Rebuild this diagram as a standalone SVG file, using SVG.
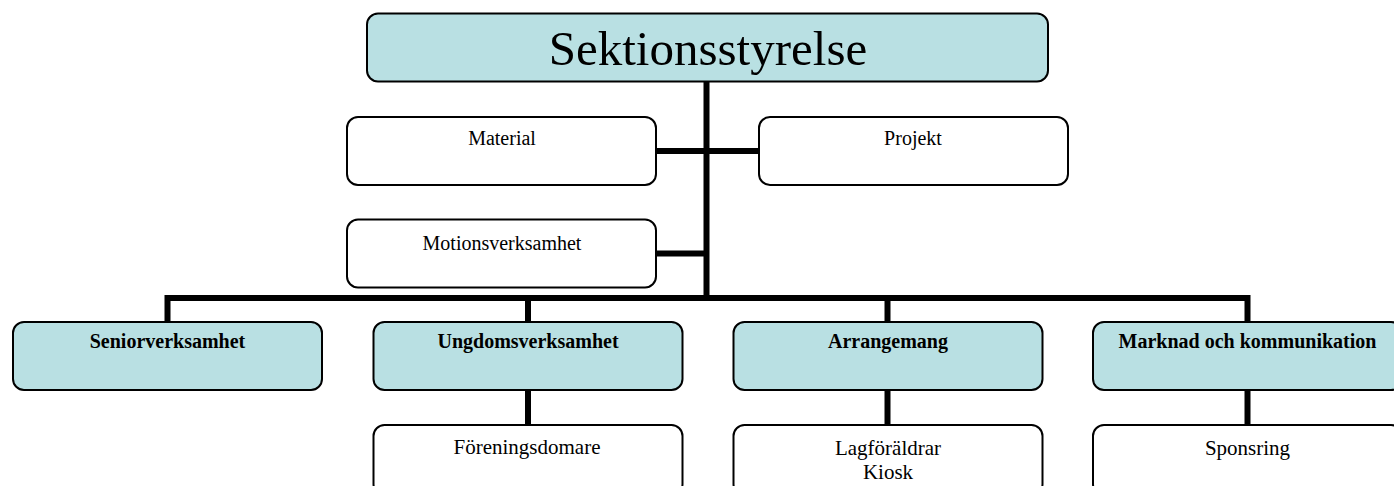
<svg xmlns="http://www.w3.org/2000/svg" width="1394" height="486" viewBox="0 0 1394 486">
<style>
.box{stroke:#000;stroke-width:2;}
.blue{fill:#B9E0E3;}
.white{fill:#fff;}
.t{font-family:"Liberation Serif","Times New Roman",serif;fill:#000;text-anchor:middle;}
.r{font-size:20px;}
.b{font-size:20px;font-weight:bold;}
.l{font-size:21px;}
.conn{stroke:#000;stroke-width:6;fill:none;stroke-linecap:butt;}
</style>
<rect width="1394" height="486" fill="#fff"/>
<g id="connectors">
<line class="conn" x1="706.5" y1="81" x2="706.5" y2="301"/>
<line class="conn" x1="656" y1="151" x2="759" y2="151"/>
<line class="conn" x1="656" y1="253.5" x2="706.5" y2="253.5"/>
<polyline class="conn" points="167.5,322 167.5,298 1247.5,298 1247.5,322"/>
<line class="conn" x1="528" y1="298" x2="528" y2="322"/>
<line class="conn" x1="887.5" y1="298" x2="887.5" y2="322"/>
<line class="conn" x1="528" y1="390" x2="528" y2="425"/>
<line class="conn" x1="887.5" y1="390" x2="887.5" y2="425"/>
<line class="conn" x1="1247.5" y1="390" x2="1247.5" y2="425"/>
</g>
<g id="sektionsstyrelse">
<rect class="box blue" x="367" y="13.5" width="681" height="68" rx="11"/>
<text class="t" x="708" y="65" font-size="49">Sektionsstyrelse</text>
</g>
<g id="material">
<rect class="box white" x="347" y="117" width="309" height="68" rx="11"/>
<text class="t r" x="502" y="145">Material</text>
</g>
<g id="projekt">
<rect class="box white" x="759" y="117" width="309" height="68" rx="11"/>
<text class="t r" x="913" y="145">Projekt</text>
</g>
<g id="motionsverksamhet">
<rect class="box white" x="347" y="219.5" width="309" height="68" rx="11"/>
<text class="t r" x="502" y="250">Motionsverksamhet</text>
</g>
<g id="seniorverksamhet">
<rect class="box blue" x="13" y="322" width="309" height="68" rx="11"/>
<text class="t b" x="167.5" y="348">Seniorverksamhet</text>
</g>
<g id="ungdomsverksamhet">
<rect class="box blue" x="373.5" y="322" width="309" height="68" rx="11"/>
<text class="t b" x="528" y="347.5">Ungdomsverksamhet</text>
</g>
<g id="arrangemang">
<rect class="box blue" x="733.5" y="322" width="309" height="68" rx="11"/>
<text class="t b" x="888" y="347.5">Arrangemang</text>
</g>
<g id="marknad">
<rect class="box blue" x="1093" y="322" width="309" height="68" rx="11"/>
<text class="t b" x="1247.5" y="348">Marknad och kommunikation</text>
</g>
<g id="foreningsdomare">
<rect class="box white" x="373.5" y="425" width="309" height="70" rx="11"/>
<text class="t l" x="527" y="454">Föreningsdomare</text>
</g>
<g id="lagforaldrar">
<rect class="box white" x="733.5" y="425" width="309" height="70" rx="11"/>
<text class="t l" x="888" y="455">Lagföräldrar</text>
<text class="t l" x="888" y="478.5">Kiosk</text>
</g>
<g id="sponsring">
<rect class="box white" x="1093" y="425" width="309" height="70" rx="11"/>
<text class="t l" x="1247.5" y="455">Sponsring</text>
</g>
</svg>
